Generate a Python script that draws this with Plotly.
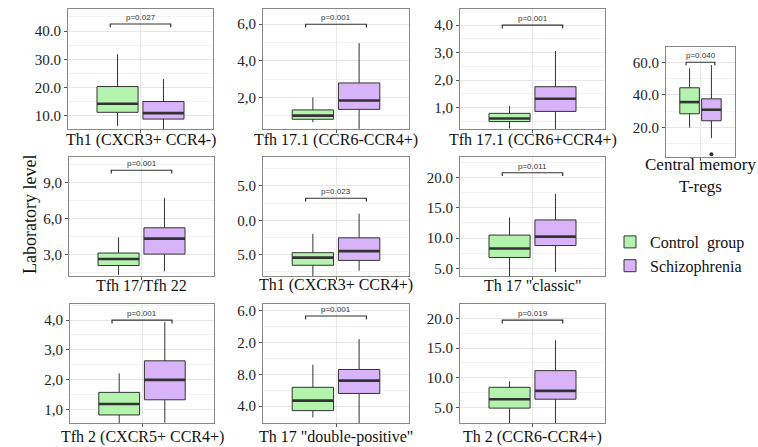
import plotly.graph_objects as go

# ---------------- data ----------------
panel_titles = [
    "Th1 (CXCR3+ CCR4-)", "Tfh 17.1 (CCR6-CCR4+)", "Tfh 17.1 (CCR6+CCR4+)",
    "Central memory<br>T-regs",
    "Tfh 17/Tfh 22", "Th1 (CXCR3+ CCR4+)", 'Th 17 "classic"',
    "Tfh 2 (CXCR5+ CCR4+)", 'Th 17 "double-positive"', "Th 2 (CCR6-CCR4+)",
]
groups = ["Control  group", "Schizophrenia"]

# box statistics: [lower whisker, q1, median, q3, upper whisker]
control_stats = [
    [6.5, 11.3, 14.3, 20.4, 31.8],
    [0.66, 0.82, 1.02, 1.33, 2.0],
    [0.25, 0.49, 0.60, 0.79, 1.06],
    [19.8, 28.3, 35.5, 44.3, 56.3],
    [1.3, 2.08, 2.62, 3.12, 4.43],
    [11.5, 13.46, 14.57, 15.29, 18.03],
    [3.5, 6.8, 8.28, 10.5, 13.4],
    [0.45, 0.81, 1.18, 1.57, 2.21],
    [2.6, 3.45, 4.7, 6.37, 9.2],
    [2.0, 4.9, 6.4, 8.4, 9.4],
]
schizo_stats = [
    [4.0, 8.9, 11.0, 15.1, 23.1],
    [0.1, 1.36, 1.84, 2.80, 4.97],
    [0.15, 0.86, 1.32, 1.76, 3.06],
    [13.3, 24.0, 30.8, 37.5, 58.3],
    [1.6, 3.03, 4.32, 5.22, 7.71],
    [12.67, 14.17, 15.52, 17.45, 20.96],
    [4.4, 8.77, 10.25, 13.0, 17.3],
    [0.55, 1.32, 1.99, 2.63, 3.93],
    [1.5, 5.6, 7.2, 8.6, 12.4],
    [2.0, 6.4, 7.8, 11.2, 16.3],
]
schizo_outliers = [[], [], [], [3.4], [], [], [], [], [], []]

p_labels = ["p=0.027", "p=0.001", "p=0.001", "p=0.040", "p=0.001",
            "p=0.023", "p=0.011", "p=0.001", "p=0.001", "p=0.019"]
p_heights = [42.5, 6.0, 4.0, 60.0, 10.0, 23.2, 20.8, 4.0, 15.3, 19.7]

y_ranges = [
    [5.4, 47.8], [0.29, 6.83], [0.22, 4.59], [1.7, 69.4], [1.21, 11.1],
    [11.9, 29.2], [3.74, 23.4], [0.54, 4.54], [1.9, 16.8], [2.4, 22.4],
]
y_tickvals = [
    [10, 20, 30, 40], [2, 4, 6], [1, 2, 3, 4], [20, 40, 60], [3, 6, 9],
    [15, 20, 25], [5, 10, 15, 20], [1, 2, 3, 4], [4, 8, 12, 16], [5, 10, 15, 20],
]
y_ticktext = [
    ["10.0", "20.0", "30.0", "40.0"], ["2,0", "4,0", "6,0"],
    ["1,0", "2,0", "3,0", "4,0"], ["20.0", "40.0", "60.0"],
    ["3,0", "6,0", "9,0"], ["5.0", "0.0", "5.0"],
    ["5.0", "10.0", "15.0", "20.0"], ["1,0", "2,0", "3,0", "4,0"],
    ["4.0", "8.0", "2.0", "6.0"], ["5.0", "10.0", "15.0", "20.0"],
]

# ---------------- layout (pixels) ----------------
W, H = 758, 447
panel_px = [  # x0, x1, y0(top), y1(bottom)
    (68, 213, 9, 129), (263, 409, 9, 129), (460, 605, 9, 129),
    (666, 735, 47, 157),
    (69, 214, 157, 276), (263, 409, 157, 276), (460, 605, 157, 276),
    (70, 214, 304, 423), (263, 409, 304, 423), (460, 605, 304, 423),
]
title_y_px = [140, 140, 140, 175, 285, 285, 285, 437, 437, 437]
title_size = [16, 16, 16, 17, 16, 16, 16, 16, 16, 16]

fill_colors = ["#b3f3ad", "#d9b3f8"]
line_col = "#333333"
serif = "Liberation Serif, Times New Roman, serif"
offset, bw = 0.19, 0.34

fig = go.Figure()
layout = {}
for i in range(len(panel_titles)):
    k = "" if i == 0 else str(i + 1)
    xa, ya = "x" + k, "y" + k
    x0, x1, t, b = panel_px[i]
    stats_list = [control_stats[i], schizo_stats[i]]
    for g, st in enumerate(stats_list):
        xc = 1 - offset if g == 0 else 1 + offset
        fig.add_trace(go.Box(
            x=[xc], q1=[st[1]], median=[st[2]], q3=[st[3]],
            lowerfence=[st[0]], upperfence=[st[4]],
            width=bw, whiskerwidth=0, boxpoints=False,
            fillcolor=fill_colors[g], line=dict(color=line_col, width=1),
            name=groups[g], legendgroup=groups[g], showlegend=(i == 0),
            xaxis=xa, yaxis=ya, hoverinfo="skip",
        ))
        fig.add_trace(go.Scatter(
            x=[xc - bw / 2, xc + bw / 2], y=[st[2], st[2]], mode="lines",
            line=dict(color=line_col, width=2.6), showlegend=False,
            xaxis=xa, yaxis=ya, hoverinfo="skip",
        ))
    if schizo_outliers[i]:
        fig.add_trace(go.Scatter(
            x=[1 + offset] * len(schizo_outliers[i]), y=schizo_outliers[i],
            mode="markers", marker=dict(color=line_col, size=4),
            showlegend=False, xaxis=xa, yaxis=ya, hoverinfo="skip",
        ))
    # p-value bracket
    yr = y_ranges[i]
    d = 0.028 * (yr[1] - yr[0])
    ph = p_heights[i]
    fig.add_trace(go.Scatter(
        x=[0.75, 0.75, 1.25, 1.25], y=[ph - d, ph, ph, ph - d], mode="lines",
        line=dict(color=line_col, width=1.2), showlegend=False,
        xaxis=xa, yaxis=ya, hoverinfo="skip",
    ))
    fig.add_annotation(
        x=1, y=ph, xref=xa, yref=ya, text=p_labels[i], showarrow=False,
        yanchor="bottom", yshift=0,
        font=dict(family="Liberation Sans, Arial", size=8, color="#333333"),
    )
    # panel title (x-axis label)
    fig.add_annotation(
        x=(x0 + x1) / 2 / W, y=1 - title_y_px[i] / H, xref="paper", yref="paper",
        text=panel_titles[i], showarrow=False, xanchor="center", yanchor="middle",
        font=dict(family=serif, size=title_size[i], color="#111111"),
    )
    minor_step = (y_tickvals[i][1] - y_tickvals[i][0]) / 2
    layout["xaxis" + k] = dict(
        domain=[x0 / W, x1 / W], anchor=ya, range=[0.4, 1.6],
        tickvals=[1], ticktext=[""], automargin=False,
        ticks="outside", ticklen=3, tickcolor="#555555",
        showgrid=True, gridcolor="#e6e6e6", gridwidth=1, zeroline=False,
        showline=True, linecolor="#888888", linewidth=1, mirror=True,
        fixedrange=True,
    )
    layout["yaxis" + k] = dict(
        domain=[1 - b / H, 1 - t / H], anchor=xa, range=yr,
        tickvals=y_tickvals[i], ticktext=y_ticktext[i], automargin=False,
        ticks="outside", ticklen=3, tickcolor="#555555",
        showgrid=True, gridcolor="#e6e6e6", gridwidth=1, zeroline=False,
        minor=dict(dtick=minor_step, tick0=y_tickvals[i][0] - minor_step,
                   showgrid=True, gridcolor="#f3f3f3", ticks=""),
        showline=True, linecolor="#888888", linewidth=1, mirror=True,
        tickfont=dict(family=serif, size=15, color="#222222"),
        fixedrange=True,
    )

fig.add_annotation(
    x=18 / W, y=1 - 215 / H, xref="paper", yref="paper",
    text="Laboratory level", textangle=-90, showarrow=False,
    font=dict(family=serif, size=18, color="#111111"),
)

fig.update_layout(
    width=W, height=H, margin=dict(l=0, r=0, t=0, b=0, autoexpand=False),
    paper_bgcolor="white", plot_bgcolor="white", boxmode="overlay",
    legend=dict(
        x=610 / W, y=1 - 254 / H, xanchor="left", yanchor="middle",
        font=dict(family=serif, size=16, color="#111111"),
        bgcolor="rgba(0,0,0,0)", tracegroupgap=0, itemwidth=30,
    ),
    **layout,
)

fig.write_html("out.html", config={"displayModeBar": False})

# remove the browser's default page margin so the figure sits at (0, 0)
with open("out.html", "r", encoding="utf-8") as fh:
    html = fh.read()
html = html.replace("<head>", "<head><style>html,body{margin:0;padding:0;overflow:hidden;}</style>", 1)
with open("out.html", "w", encoding="utf-8") as fh:
    fh.write(html)
